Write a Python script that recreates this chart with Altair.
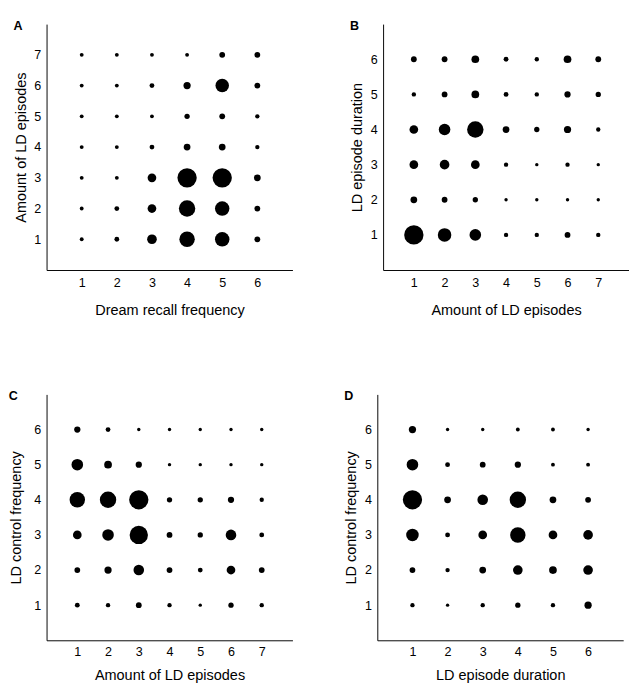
import altair as alt
import pandas as pd

# Panel A: x = dream recall frequency (1-6), y = amount of LD episodes (1-7); values = bubble diameter
A_x = [1, 2, 3, 4, 5, 6]
A_y = [7, 6, 5, 4, 3, 2, 1]
A_d = [
    [4, 4, 4, 4, 6, 6],
    [4, 4, 5, 7.5, 14, 6],
    [4, 4, 4, 5.5, 6, 4.5],
    [4, 4, 5, 7, 7, 4.5],
    [4, 4, 9, 20, 20, 7],
    [4, 5, 9, 17, 15, 6],
    [4, 5, 10, 16, 15, 6],
]

# Panel B: x = amount of LD episodes (1-7), y = LD episode duration (1-6)
B_x = [1, 2, 3, 4, 5, 6, 7]
B_y = [6, 5, 4, 3, 2, 1]
B_d = [
    [6, 6, 8, 5, 4.5, 8, 6],
    [4.5, 6, 8, 5, 4.5, 6.5, 5.5],
    [9, 12, 17, 7, 5.5, 7.5, 4.5],
    [9, 10, 9, 4.5, 3.5, 4.5, 3.5],
    [7, 6, 5.5, 3.5, 3.5, 3.5, 3.5],
    [20, 14, 12, 4.5, 4.5, 6, 4.5],
]

# Panel C: x = amount of LD episodes (1-7), y = LD control frequency (1-6)
C_x = [1, 2, 3, 4, 5, 6, 7]
C_y = [6, 5, 4, 3, 2, 1]
C_d = [
    [6.5, 5, 3.5, 3.5, 3.5, 3.5, 3.5],
    [12, 8, 6.5, 3.5, 3.5, 3.5, 3.5],
    [16, 17, 20, 5.5, 5.5, 6.5, 4.5],
    [9, 12, 19, 6, 5.5, 11, 5],
    [6, 7.5, 11, 6, 5, 9, 6],
    [5, 4.5, 6, 4.5, 3.5, 5.5, 4.5],
]

# Panel D: x = LD episode duration (1-6), y = LD control frequency (1-6)
D_x = [1, 2, 3, 4, 5, 6]
D_y = [6, 5, 4, 3, 2, 1]
D_d = [
    [7.5, 3.5, 3.5, 4, 4, 3.5],
    [12, 5, 6, 6.5, 4, 4],
    [20, 7, 11, 17, 7, 6],
    [13, 5, 9, 16, 9, 10],
    [6, 4.5, 7, 10, 8, 10],
    [4.5, 3.5, 4.5, 5.5, 4.5, 7.5],
]

FONT = "Liberation Sans"


def panel(letter, xs, ys, ds, xtitle, ytitle, xmax, ymax, label_pad_x, title_pad_x, title_pad_y):
    rows = []
    for i, yv in enumerate(ys):
        for j, xv in enumerate(xs):
            rows.append({"x": xv, "y": yv, "d": ds[i][j]})
    df = pd.DataFrame(rows)
    return (
        alt.Chart(df)
        .mark_circle(color="black", opacity=1)
        .encode(
            x=alt.X(
                "x:Q",
                title=xtitle,
                scale=alt.Scale(domain=[0, xmax], nice=False),
                axis=alt.Axis(values=xs, ticks=False, grid=False, domainColor="black",
                              labelFontSize=13, titleFontSize=15, labelFont=FONT, titleFont=FONT,
                              titleFontWeight="normal", labelColor="black", titleColor="black",
                              labelPadding=label_pad_x, titlePadding=title_pad_x),
            ),
            y=alt.Y(
                "y:Q",
                title=ytitle,
                scale=alt.Scale(domain=[0, ymax], nice=False),
                axis=alt.Axis(values=sorted(ys), ticks=False, grid=False, domainColor="black",
                              labelFontSize=13, titleFontSize=15, labelFont=FONT, titleFont=FONT,
                              titleFontWeight="normal", labelColor="black", titleColor="black",
                              labelPadding=6, titlePadding=title_pad_y),
            ),
            size=alt.Size("d:Q", scale=alt.Scale(type="pow", exponent=2, domain=[0, 20], range=[0, 400]),
                          legend=None),
        )
        .properties(
            width=255,
            height=255,
            title=alt.TitleParams(letter, anchor="start", frame="bounds", fontSize=13,
                                  fontWeight="bold", font=FONT, color="black", offset=-9),
        )
    )


pA = panel("A", A_x, A_y, A_d, "Dream recall frequency", "Amount of LD episodes", 7, 8, 7, 14, 6)
pB = panel("B", B_x, B_y, B_d, "Amount of LD episodes", "LD episode duration", 8, 7, 7, 14, 6)
pC = panel("C", C_x, C_y, C_d, "Amount of LD episodes", "LD control frequency", 8, 7, 6, 10, 11)
pD = panel("D", D_x, D_y, D_d, "LD episode duration", "LD control frequency", 7, 7, 6, 10, 6)

chart = (
    alt.vconcat(
        alt.hconcat(pA, pB, spacing=59),
        alt.hconcat(pC, pD, spacing=53),
        spacing=76,
    )
    .properties(padding={"left": 0, "top": 0, "right": 0, "bottom": 0})
    .configure(background="white")
    .configure_view(strokeWidth=0, stroke=None)
)

chart.save("out.html", embed_options={"renderer": "svg", "actions": False})
